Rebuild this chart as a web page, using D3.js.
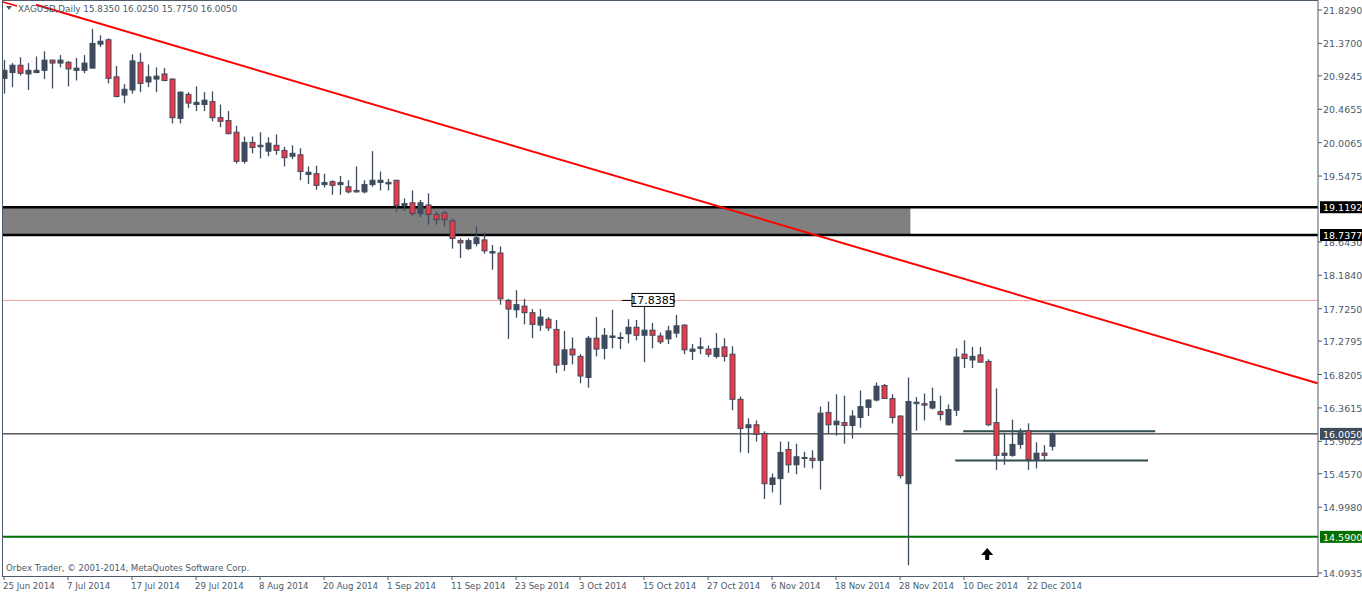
<!DOCTYPE html>
<html><head><meta charset="utf-8">
<script src="https://cdn.jsdelivr.net/npm/d3@7/dist/d3.min.js"></script>
<style>body{margin:0;background:#fff}svg{display:block}text{font-family:"DejaVu Sans",sans-serif}</style>
</head><body><svg id="c" width="1362" height="594"></svg>
<script>
const opens=[20.89,20.97,21.07,20.95,20.97,21.00,21.14,21.10,21.11,21.00,21.00,21.03,21.36,21.42,20.91,20.66,20.73,21.11,20.84,20.88,20.95,20.88,20.34,20.67,20.53,20.53,20.57,20.35,20.31,20.15,
19.75,20.01,19.95,19.89,19.97,19.90,19.82,19.84,19.57,19.58,19.43,19.47,19.43,19.40,19.35,19.33,19.43,19.46,19.44,19.49,19.14,19.18,19.03,19.15,19.02,19.04,18.93,18.66,18.55,18.62,
18.67,18.49,18.49,17.84,17.71,17.76,17.67,17.50,17.58,17.44,16.96,17.17,17.07,16.78,17.32,17.18,17.33,17.32,17.38,17.47,17.36,17.43,17.35,17.31,17.39,17.50,17.14,17.18,17.17,17.07,
17.20,17.10,16.48,16.09,16.13,16.01,15.31,15.39,15.79,15.58,15.67,15.67,15.64,16.30,16.13,16.16,16.12,16.23,16.37,16.47,16.67,16.49,16.25,15.32,16.42,16.42,16.36,16.31,16.13,16.33,
17.10,17.02,17.09,17.00,16.16,15.71,15.71,15.86,16.05,15.65,15.74,15.835];
const highs=[21.14,21.10,21.18,21.10,21.19,21.26,21.15,21.21,21.13,21.17,21.21,21.57,21.48,21.44,21.06,20.81,21.22,21.24,21.08,21.04,21.03,20.89,20.71,20.70,20.78,20.70,20.71,20.53,20.44,20.24,
20.09,20.09,20.15,20.08,20.12,19.95,19.97,19.93,19.68,19.69,19.58,19.49,19.55,19.49,19.68,19.49,19.89,19.61,19.51,19.49,19.24,19.35,19.22,19.31,19.06,19.07,18.96,18.69,18.69,18.86,
18.77,18.60,18.58,17.86,17.98,17.86,17.72,17.72,17.61,17.57,17.42,17.33,17.10,17.35,17.61,17.46,17.71,17.40,17.58,17.57,17.76,17.53,17.40,17.49,17.64,17.51,17.24,17.33,17.22,17.39,
17.32,17.21,16.52,16.22,16.19,16.04,15.46,15.90,15.90,15.87,15.76,15.78,16.38,16.45,16.55,16.53,16.33,16.60,16.48,16.71,16.69,16.55,16.26,16.78,16.51,16.56,16.64,16.53,16.41,17.18,
17.29,17.20,17.20,17.03,16.63,16.02,16.20,16.08,16.15,15.89,15.85,16.025];
const lows=[20.68,20.77,20.93,20.73,20.96,20.88,20.75,21.04,20.78,20.86,20.96,21.03,21.32,20.82,20.63,20.55,20.68,20.70,20.77,20.70,20.85,20.27,20.27,20.48,20.44,20.44,20.30,20.22,20.12,19.72,
19.72,19.86,19.79,19.82,19.84,19.68,19.78,19.49,19.44,19.36,19.39,19.29,19.29,19.31,19.32,19.31,19.40,19.35,19.35,19.06,19.07,19.00,18.98,18.88,18.88,18.85,18.55,18.42,18.53,18.58,
18.48,18.26,17.78,17.31,17.60,17.51,17.32,17.42,17.42,16.84,16.87,16.96,16.70,16.64,17.07,17.03,17.18,17.17,17.25,17.29,16.99,17.18,17.24,17.24,17.33,17.10,17.02,17.10,17.06,17.04,
17.00,16.33,15.75,15.74,15.90,15.11,15.20,15.03,15.47,15.45,15.54,15.53,15.24,16.01,15.98,15.87,15.94,16.09,16.25,16.45,16.49,16.15,15.39,14.20,16.05,16.19,16.34,16.19,16.12,16.25,
16.91,16.91,16.99,16.11,15.51,15.58,15.69,15.80,15.51,15.53,15.64,15.775];
const closes=[21.00,21.07,20.96,21.00,21.00,21.14,21.10,21.14,21.02,21.03,21.10,21.37,21.40,20.89,20.64,20.74,21.13,20.82,20.91,20.92,20.86,20.35,20.70,20.55,20.56,20.59,20.35,20.30,20.13,19.75,
20.01,19.94,19.97,20.00,19.90,19.80,19.86,19.61,19.60,19.42,19.46,19.42,19.46,19.33,19.33,19.43,19.49,19.49,19.46,19.14,19.17,19.03,19.18,19.02,18.95,18.95,18.69,18.63,18.66,18.70,
18.52,18.51,17.86,17.72,17.78,17.67,17.51,17.61,17.46,16.95,17.16,17.09,16.80,17.32,17.17,17.36,17.35,17.33,17.47,17.36,17.43,17.36,17.27,17.42,17.49,17.16,17.17,17.20,17.10,17.18,
17.07,16.48,16.08,16.13,16.00,15.32,15.40,15.75,15.58,15.69,15.68,15.64,16.29,16.13,16.18,16.12,16.25,16.38,16.47,16.66,16.49,16.23,15.43,16.45,16.44,16.40,16.45,16.27,16.34,17.06,
17.04,17.07,16.99,16.13,15.71,15.74,15.86,16.02,15.65,15.74,15.71,16.005];
const dateLabels=["25 Jun 2014","7 Jul 2014","17 Jul 2014","29 Jul 2014","8 Aug 2014","20 Aug 2014","1 Sep 2014","11 Sep 2014","23 Sep 2014","3 Oct 2014","15 Oct 2014","27 Oct 2014","6 Nov 2014","18 Nov 2014","28 Nov 2014","10 Dec 2014","22 Dec 2014"];
const dateIdx=[0,8,16,24,32,40,48,56,64,72,80,88,96,104,112,120,128];
const priceTicks=[21.8290,21.3700,20.9245,20.4655,20.0065,19.5475,18.6430,18.1840,17.7250,17.2795,16.8205,16.3615,15.9025,15.4570,14.9980,14.0935];
const zoneLevels=[19.1192,18.7377];
const zoneEndIdx=113.3;
const markLevel=17.8385, markIdx=78.5;
const bidLevel=16.0050, greenLevel=14.5900;
const trend=[[4,21.90],[164.2,16.70]];
const segTop=[[119.9,143.9],16.04], segBot=[[118.9,143],15.64];
const arrowIdx=122.9;

const svg=d3.select("#c");
const W=1318, B=576;
const x=d3.scaleLinear().domain([0,131]).range([4,1052]);
const y=d3.scaleLinear().domain([14.0935,21.829]).range([573,10]);
const dark="#3d4b5c", red="#f23645", axc="#4d5a68";
const plot=svg.append("g");
svg.append("clipPath").attr("id","pc").append("rect").attr("x",2).attr("y",1).attr("width",W-2).attr("height",B-1);
const g=plot.append("g").attr("clip-path","url(#pc)");

g.append("rect").attr("x",x(0)-2).attr("y",y(zoneLevels[0])).attr("width",x(zoneEndIdx)-x(0)+2).attr("height",y(zoneLevels[1])-y(zoneLevels[0])).attr("fill","#808080");
zoneLevels.forEach(v=>g.append("line").attr("x1",2).attr("x2",W).attr("y1",y(v)).attr("y2",y(v)).attr("stroke","#000").attr("stroke-width",2.5));
g.append("line").attr("x1",2).attr("x2",W).attr("y1",y(markLevel)).attr("y2",y(markLevel)).attr("stroke","#f4a090").attr("stroke-width",1);
g.append("line").attr("x1",2).attr("x2",W).attr("y1",y(bidLevel)).attr("y2",y(bidLevel)).attr("stroke","#000").attr("stroke-width",1);
g.append("line").attr("x1",2).attr("x2",W).attr("y1",y(greenLevel)).attr("y2",y(greenLevel)).attr("stroke","#007000").attr("stroke-width",2);
[segTop,segBot].forEach(s=>g.append("line").attr("x1",x(s[0][0])).attr("x2",x(s[0][1])).attr("y1",y(s[1])).attr("y2",y(s[1])).attr("stroke","#2f4f4f").attr("stroke-width",2));

const idx=d3.range(closes.length);
g.selectAll(".w").data(idx).join("line").attr("x1",i=>x(i)+0.5).attr("x2",i=>x(i)+0.5).attr("y1",i=>y(highs[i])).attr("y2",i=>y(lows[i])).attr("stroke",dark).attr("stroke-width",1.3);
g.selectAll(".b").data(idx).join("rect").attr("x",i=>x(i)-2).attr("width",5)
 .attr("y",i=>y(Math.max(opens[i],closes[i]))).attr("height",i=>Math.max(1,Math.abs(y(opens[i])-y(closes[i]))))
 .attr("fill",i=>closes[i]>=opens[i]?dark:red).attr("stroke",dark).attr("stroke-width",1);

g.append("line").attr("x1",x(trend[0][0])).attr("y1",y(trend[0][1])).attr("x2",x(trend[1][0])).attr("y2",y(trend[1][1])).attr("stroke","#ff0000").attr("stroke-width",2);

const mx=x(markIdx), my=y(markLevel);
g.append("line").attr("x1",mx-10).attr("x2",mx).attr("y1",my).attr("y2",my).attr("stroke","#000");
g.append("rect").attr("x",mx).attr("y",my-7).attr("width",42).attr("height",13).attr("fill","#fff").attr("stroke","#000");
g.append("text").attr("x",mx+21).attr("y",my+4).attr("text-anchor","middle").attr("font-size",11).attr("fill","#000").text(markLevel.toFixed(4));

const ax=x(arrowIdx);
g.append("path").attr("d",`M${ax},548 L${ax+6},555 L${ax+2},555 L${ax+2},560 L${ax-2},560 L${ax-2},555 L${ax-6},555 Z`).attr("fill","#000");

svg.append("rect").attr("x",2.5).attr("y",0.5).attr("width",W-2.5).attr("height",B).attr("fill","none").attr("stroke",axc);

const ra=svg.append("g");
priceTicks.forEach(v=>{ra.append("line").attr("x1",W).attr("x2",W+4).attr("y1",y(v)).attr("y2",y(v)).attr("stroke",axc);
 ra.append("text").attr("x",W+5).attr("y",y(v)+4).attr("font-size",9.5).attr("fill",axc).text(v.toFixed(4));});
[[zoneLevels[0],"#000"],[zoneLevels[1],"#000"],[bidLevel,dark],[greenLevel,"#007000"]].forEach(([v,c])=>{
 ra.append("rect").attr("x",W+2).attr("y",y(v)-6).attr("width",42).attr("height",12).attr("fill",c);
 ra.append("text").attr("x",W+5).attr("y",y(v)+4).attr("font-size",9.5).attr("fill","#fff").text(v.toFixed(4));});

dateIdx.forEach((d,k)=>{svg.append("line").attr("x1",x(d)).attr("x2",x(d)).attr("y1",B).attr("y2",B+4).attr("stroke",axc);
 svg.append("text").attr("x",x(d)-1).attr("y",B+13).attr("font-size",8.6).attr("fill",axc).text(dateLabels[k]);});

svg.append("path").attr("d","M6,6 L12,6 L9,10 Z").attr("fill","#4d5a68");
svg.append("line").attr("x1",3).attr("y1",2).attr("x2",17).attr("y2",6).attr("stroke","#ff0000").attr("stroke-width",1.5);
svg.append("text").attr("x",18).attr("y",12).attr("font-size",8.8).attr("fill",axc).text(`XAGUSD,Daily ${opens[131].toFixed(4)} ${highs[131].toFixed(4)} ${lows[131].toFixed(4)} ${closes[131].toFixed(4)}`);
svg.append("text").attr("x",6).attr("y",571).attr("font-size",8.6).attr("fill",axc).text("Orbex Trader, © 2001-2014, MetaQuotes Software Corp.");
</script></body></html>
